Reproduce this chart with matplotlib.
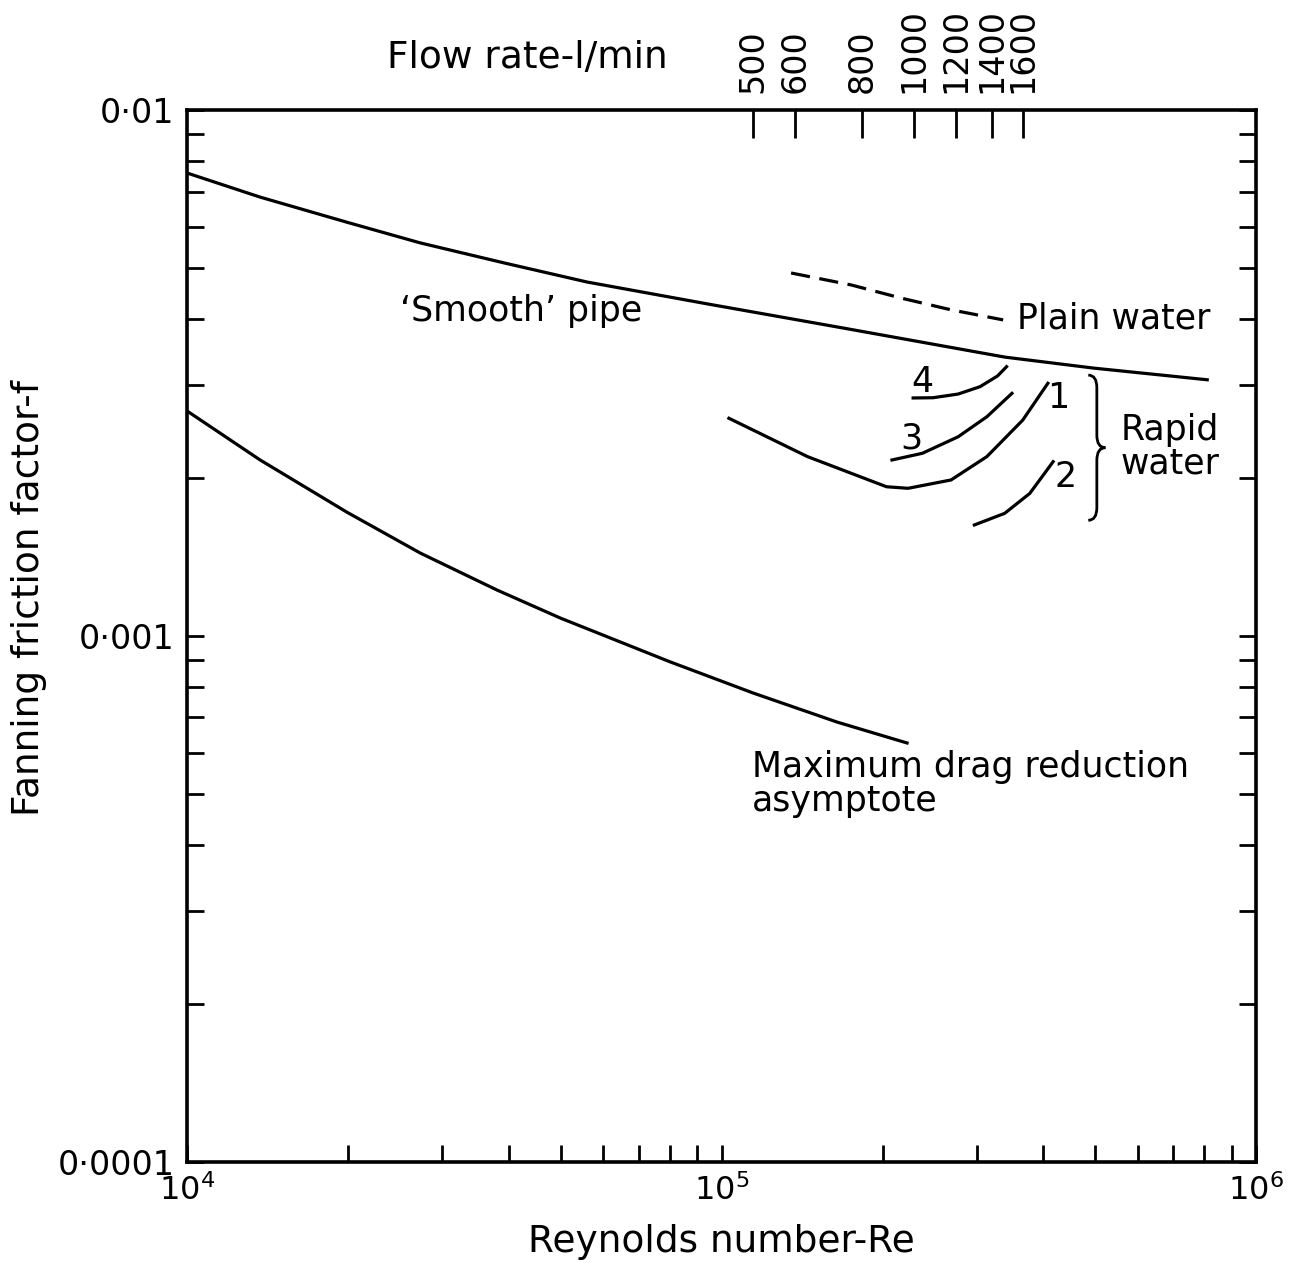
import matplotlib
matplotlib.use("Agg")
import matplotlib.pyplot as plt
from matplotlib.path import Path
from matplotlib.patches import PathPatch
from matplotlib.ticker import NullFormatter, NullLocator

# values (Reynolds number, Fanning friction factor)
smooth_re = [1.0e4, 1.37e4, 1.99e4, 2.73e4, 3.92e4, 5.60e4, 9.40e4, 1.69e5, 3.39e5, 4.98e5, 8.10e5]
smooth_f = [0.00759, 0.00683, 0.00612, 0.00559, 0.00512, 0.00471, 0.00428, 0.00385, 0.00339, 0.00323, 0.00307]

mdr_re = [1.0e4, 1.37e4, 1.99e4, 2.73e4, 3.80e4, 4.99e4, 8.01e4, 1.146e5, 1.645e5, 2.223e5]
mdr_f = [0.002678, 0.002161, 0.001720, 0.001438, 0.001223, 0.001082, 0.000893, 0.000779, 0.000686, 0.000626]

plain_re = [1.349e5, 1.747e5, 2.167e5, 2.687e5, 3.363e5]
plain_f = [0.00490, 0.00465, 0.00439, 0.00417, 0.00399]

# rapid water runs 1-4
run1_re = [1.032e5, 1.448e5, 2.035e5, 2.233e5, 2.687e5, 3.135e5, 3.659e5, 4.077e5]
run1_f = [0.002594, 0.002193, 0.001922, 0.001909, 0.001980, 0.002193, 0.002573, 0.003023]
run2_re = [2.971e5, 3.386e5, 3.772e5, 4.171e5]
run2_f = [0.001626, 0.001711, 0.001867, 0.002145]
run3_re = [2.083e5, 2.374e5, 2.770e5, 3.135e5, 3.493e5]
run3_f = [0.002161, 0.002225, 0.002392, 0.002611, 0.002893]
run4_re = [2.282e5, 2.487e5, 2.770e5, 3.045e5, 3.283e5, 3.413e5]
run4_f = [0.002835, 0.002838, 0.002884, 0.002979, 0.003122, 0.003251]

# top scale: flow rate in l/min, Re is roughly proportional to it
flow_lpm = [500, 600, 800, 1000, 1200, 1400, 1600]
re_per_lpm = 229.0

y_ticks = [1e-4, 1e-3, 1e-2]
y_labels = ["0·0001", "0·001", "0·01"]
x_ticks = [1e4, 1e5, 1e6]
x_labels = ["$10^4$", "$10^5$", "$10^6$"]

plt.rcParams["font.family"] = ["DejaVu Sans"]
plt.rcParams["mathtext.fontset"] = "dejavusans"

fig = plt.figure(figsize=(12.99, 12.72), dpi=100)
ax = fig.add_axes([0.144, 0.0865, 0.823, 0.827])

lw = 2.3
ax.plot(smooth_re, smooth_f, color="black", lw=lw)
ax.plot(mdr_re, mdr_f, color="black", lw=lw)
ax.plot(plain_re, plain_f, color="black", lw=lw, dashes=(6, 3))
for re, f in [(run1_re, run1_f), (run2_re, run2_f), (run3_re, run3_f), (run4_re, run4_f)]:
    ax.plot(re, f, color="black", lw=lw)

ax.set_xscale("log")
ax.set_yscale("log")
ax.set_xlim(1e4, 1e6)
ax.set_ylim(1e-4, 1e-2)

ax.set_xticks(x_ticks)
ax.set_xticklabels(x_labels)
ax.set_yticks(y_ticks)
ax.set_yticklabels(y_labels)
ax.xaxis.set_minor_formatter(NullFormatter())
ax.yaxis.set_minor_formatter(NullFormatter())

for s in ax.spines.values():
    s.set_linewidth(2.6)
ax.tick_params(which="both", direction="in", top=True, right=True,
               length=12, width=2, labelsize=24, pad=9)
ax.tick_params(axis="x", labelsize=23)

ax.set_xlabel("Reynolds number-Re", fontsize=27, labelpad=12)
ax.set_ylabel("Fanning friction factor-f", fontsize=27)
ax.yaxis.set_label_coords(-0.131, 0.536)

# flow rate axis on top
ax2 = ax.twiny()
ax2.set_xscale("log")
ax2.set_xlim(ax.get_xlim())
ax2.set_xticks([q * re_per_lpm for q in flow_lpm])
ax2.set_xticklabels([str(q) for q in flow_lpm], rotation=90, va="bottom")
ax2.xaxis.set_minor_locator(NullLocator())
ax2.tick_params(direction="in", length=20, width=2, labelsize=24, pad=12)
for s in ax2.spines.values():
    s.set_visible(False)

ax.text(0.318, 1.049, "Flow rate-l/min", transform=ax.transAxes,
        fontsize=27, ha="center", va="center")

# curve labels
txt = dict(transform=ax.transAxes, fontsize=25, va="center")
ax.text(0.3125, 0.809, "‘Smooth’ pipe", ha="center", **txt)
ax.text(0.776, 0.802, "Plain water", ha="left", **txt)
ax.text(0.5285, 0.359, "Maximum drag reduction\nasymptote", ha="left",
        linespacing=1.0, **txt)
ax.text(0.873, 0.680, "Rapid\nwater", ha="left", linespacing=1.0, **txt)
ax.text(0.6876, 0.741, "4", ha="center", **txt)
ax.text(0.6777, 0.688, "3", ha="center", **txt)
ax.text(0.8152, 0.726, "1", ha="center", **txt)
ax.text(0.822, 0.651, "2", ha="center", **txt)

# curly brace grouping the rapid water runs
xl, xm, xt = 0.843, 0.851, 0.859
yt, yc, yb = 0.748, 0.679, 0.610
d = 0.012
verts = [(xl, yt), (xm, yt), (xm, yt - d),
         (xm, yc + d),
         (xm, yc), (xt, yc),
         (xm, yc), (xm, yc - d),
         (xm, yb + d),
         (xm, yb), (xl, yb)]
codes = [Path.MOVETO, Path.CURVE3, Path.CURVE3,
         Path.LINETO,
         Path.CURVE3, Path.CURVE3,
         Path.CURVE3, Path.CURVE3,
         Path.LINETO,
         Path.CURVE3, Path.CURVE3]
ax.add_patch(PathPatch(Path(verts, codes), transform=ax.transAxes,
                       fill=False, lw=2, color="black"))

fig.savefig("out.png", dpi=100)
